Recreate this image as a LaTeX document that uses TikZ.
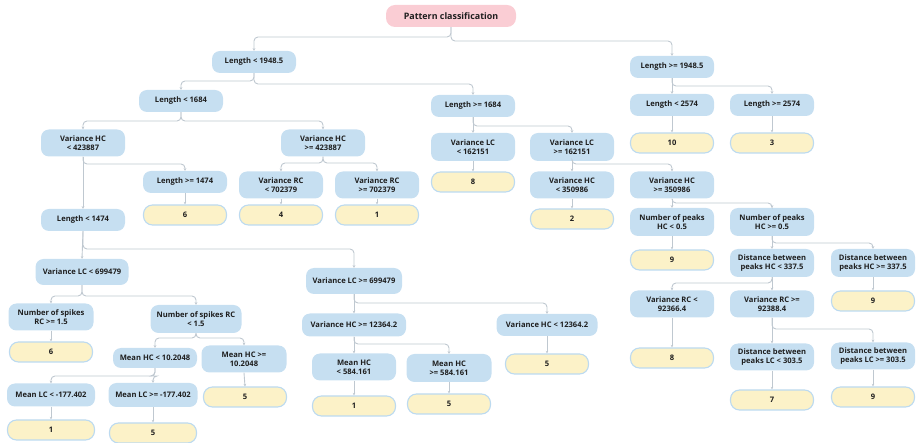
\documentclass[tikz,border=0pt]{standalone}
\usepackage{fontspec}
\setmainfont{Open Sans}
\usetikzlibrary{arrows.meta}
\definecolor{boxblue}{HTML}{C6DFF1}
\definecolor{leafyellow}{HTML}{FCF2C8}
\definecolor{leafedge}{HTML}{BCDAF0}
\definecolor{rootpink}{HTML}{FACDD4}
\definecolor{linegray}{HTML}{BFC8D0}
\definecolor{txt}{HTML}{1E1E1E}
\tikzset{
  every node/.style={font=\fontsize{7.6}{9.2}\selectfont\bfseries, text=txt, align=center, inner sep=1pt},
  split/.style={fill=boxblue, rounded corners=8pt, minimum width=84pt, minimum height=22pt},
  leaf/.style={fill=leafyellow, draw=leafedge, line width=1.1pt, rounded corners=9pt, minimum width=83pt, minimum height=20pt},
  rootbox/.style={fill=rootpink, rounded corners=9pt, minimum width=130pt, minimum height=22pt, font=\fontsize{8.9}{10}\selectfont\bfseries},
  conn/.style={draw=linegray, line width=0.9pt, rounded corners=4pt, -{Stealth[length=2.6pt,width=2.6pt]}}
}
% elbow connector: down from parent, across at height #3, down into child
\newcommand{\elb}[3]{\draw[conn] (#1.south) -- (#1.south |- 0,#3) -| (#2.north);}
% straight connector
\newcommand{\dn}[2]{\draw[conn] (#1.south) -- (#2.north);}
\begin{document}
\begin{tikzpicture}[x=1pt,y=-1pt]
\useasboundingbox (0,0) rectangle (916,443);

% root and top levels
\node[rootbox] (root) at (451,16) {Pattern classification};
\node[split] (a) at (254,62) {Length < 1948.5};
\node[split] (b) at (672,67) {Length >= 1948.5};
\node[split] (c) at (181,101) {Length < 1684};
\node[split] (d) at (473,106) {Length >= 1684};

% left subtree
\node[split, minimum height=27pt] (e) at (83,143) {Variance HC\\< 423887};
\node[split, minimum height=27pt] (f) at (323,143) {Variance HC\\>= 423887};
\node[split] (g) at (185,182) {Length >= 1474};
\node[leaf] (g6) at (185,215) {6};
\node[split, minimum height=27pt] (h) at (281,185) {Variance RC\\< 702379};
\node[leaf] (h4) at (281,215) {4};
\node[split, minimum height=27pt] (i) at (377,185) {Variance RC\\>= 702379};
\node[leaf] (i1) at (377,215) {1};
\node[split] (j) at (83,220) {Length < 1474};

\node[split, minimum width=93pt, minimum height=26pt] (vlc1) at (82,272) {Variance LC < 699479};
\node[split, minimum width=85pt, minimum height=27pt] (ns1) at (51,317) {Number of spikes\\RC >= 1.5};
\node[leaf] (ns1l) at (51,352) {6};
\node[split, minimum width=91pt, minimum height=28pt] (ns2) at (196,319) {Number of spikes RC\\< 1.5};
\node[split, minimum height=20pt] (mh1) at (155,358) {Mean HC < 10.2048};
\node[split, minimum width=85pt, minimum height=27pt] (mh2) at (244,359) {Mean HC >=\\10.2048};
\node[leaf] (mh2l) at (245,397) {5};
\node[split, minimum width=88pt, minimum height=23pt] (ml1) at (51,395) {Mean LC < -177.402};
\node[leaf, minimum width=87pt] (ml1l) at (51,430) {1};
\node[split, minimum width=89pt, minimum height=24pt] (ml2) at (153,395) {Mean LC >= -177.402};
\node[leaf, minimum width=87pt] (ml2l) at (153,433) {5};

\node[split, minimum width=96pt, minimum height=26pt] (vlc2) at (354,281) {Variance LC >= 699479};
\node[split, minimum width=104pt, minimum height=23pt] (vh1) at (354,325) {Variance HC >= 12364.2};
\node[split, minimum width=101pt, minimum height=22pt] (vh2) at (547,325) {Variance HC < 12364.2};
\node[leaf] (vh2l) at (547,364) {5};
\node[split, minimum height=27pt] (mh3) at (354,367) {Mean HC\\< 584.161};
\node[leaf] (mh3l) at (354,406) {1};
\node[split, minimum width=85pt, minimum height=28pt] (mh4) at (449,368) {Mean HC\\>= 584.161};
\node[leaf] (mh4l) at (449,404) {5};

% middle subtree
\node[split, minimum height=28pt] (k) at (473,147) {Variance LC\\< 162151};
\node[leaf] (k8) at (473,182) {8};
\node[split, minimum height=28pt] (l) at (572,147) {Variance LC\\>= 162151};
\node[split, minimum height=27pt] (m) at (572,185) {Variance HC\\< 350986};
\node[leaf] (m2) at (572,219) {2};
\node[split, minimum height=27pt] (n) at (672,185) {Variance HC\\>= 350986};

% right subtree
\node[split] (o) at (672,105) {Length < 2574};
\node[leaf] (o10) at (672,143) {10};
\node[split] (p) at (772,105) {Length >= 2574};
\node[leaf] (p3) at (772,143) {3};
\node[split, minimum height=28pt] (q) at (672,222) {Number of peaks\\HC < 0.5};
\node[leaf] (q9) at (672,260) {9};
\node[split, minimum height=28pt] (r) at (772,222) {Number of peaks\\HC >= 0.5};
\node[split, minimum height=28pt] (s) at (772,263) {Distance between\\peaks HC < 337.5};
\node[split, minimum height=28pt] (t) at (873,263) {Distance between\\peaks HC >= 337.5};
\node[leaf] (t9) at (873,301) {9};
\node[split, minimum height=27pt] (u) at (672,304) {Variance RC <\\92366.4};
\node[leaf] (u8) at (672,358) {8};
\node[split, minimum height=27pt] (v) at (772,304) {Variance RC >=\\92388.4};
\node[split, minimum height=27pt] (w) at (772,357) {Distance between\\peaks LC < 303.5};
\node[leaf] (w7) at (772,400) {7};
\node[split, minimum height=27pt] (x) at (873,356) {Distance between\\peaks LC >= 303.5};
\node[leaf] (x9) at (873,397) {9};

% connectors
\elb{root}{a}{37}
\elb{root}{b}{41}
\elb{a}{c}{81}
\elb{a}{d}{84}
\elb{c}{e}{121}
\elb{c}{f}{121}
\elb{e}{g}{164}
\dn{e}{j}
\elb{f}{h}{163}
\elb{f}{i}{163}
\dn{g}{g6}
\dn{h}{h4}
\dn{i}{i1}
\dn{j}{vlc1}
\elb{j}{vlc2}{249}
\elb{vlc1}{ns1}{296}
\elb{vlc1}{ns2}{296}
\dn{ns1}{ns1l}
\elb{ns2}{mh1}{338}
\elb{ns2}{mh2}{338}
\dn{mh2}{mh2l}
\elb{mh1}{ml1}{376}
\elb{mh1}{ml2}{376}
\dn{ml1}{ml1l}
\dn{ml2}{ml2l}
\dn{vlc2}{vh1}
\elb{vlc2}{vh2}{303}
\dn{vh2}{vh2l}
\dn{vh1}{mh3}
\elb{vh1}{mh4}{344}
\dn{mh3}{mh3l}
\dn{mh4}{mh4l}
\dn{d}{k}
\elb{d}{l}{126}
\dn{k}{k8}
\dn{l}{m}
\elb{l}{n}{164}
\dn{m}{m2}
\dn{b}{o}
\elb{b}{p}{86}
\dn{o}{o10}
\dn{p}{p3}
\dn{n}{q}
\elb{n}{r}{203}
\dn{q}{q9}
\dn{r}{s}
\elb{r}{t}{243}
\dn{t}{t9}
\elb{s}{u}{283}
\dn{s}{v}
\dn{u}{u8}
\dn{v}{w}
\elb{v}{x}{329}
\dn{w}{w7}
\dn{x}{x9}
\end{tikzpicture}
\end{document}
